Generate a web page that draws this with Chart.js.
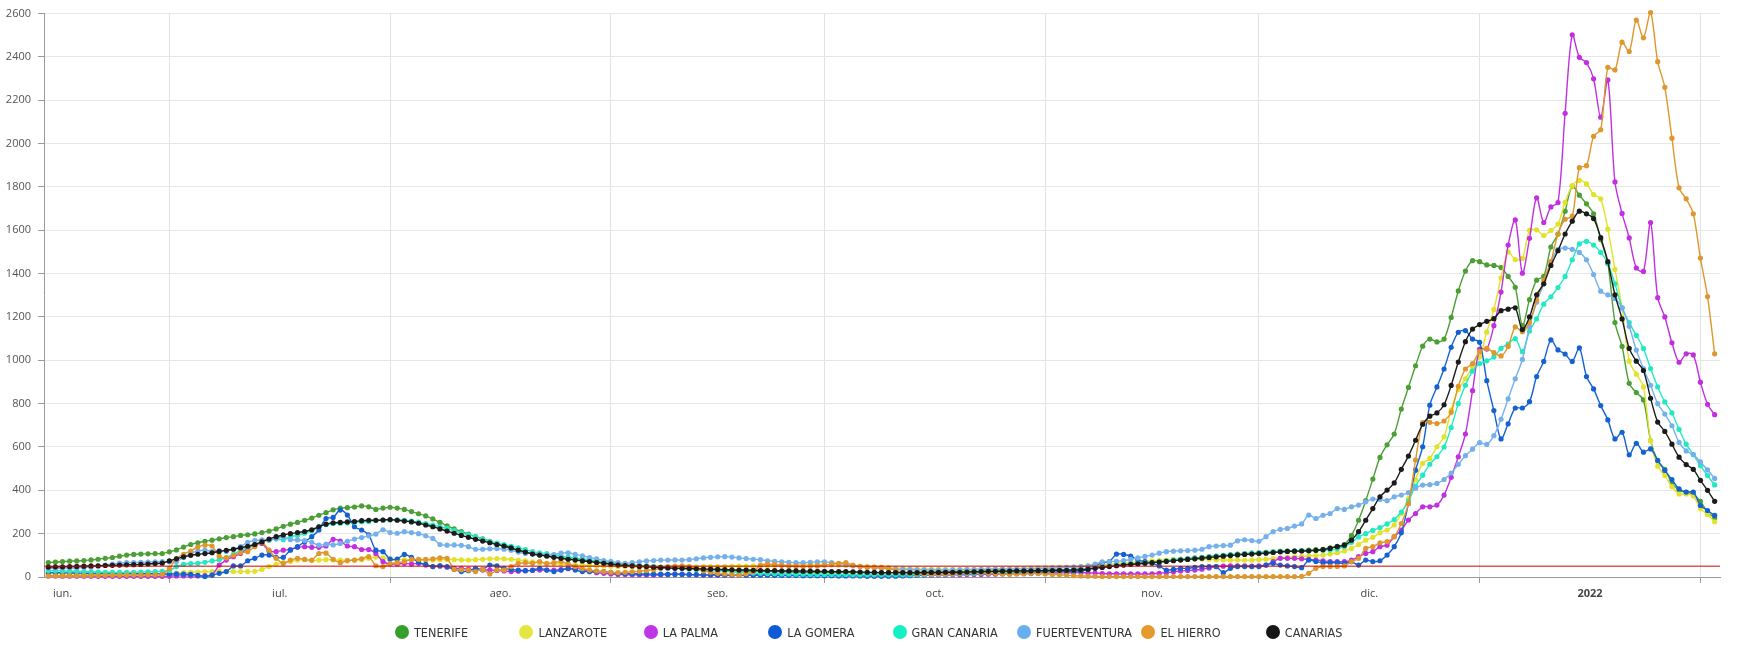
<!DOCTYPE html>
<html>
<head>
<meta charset="utf-8">
<script src="https://cdn.jsdelivr.net/npm/chart.js@4.4.1/dist/chart.umd.min.js"></script>
<style>
  html, body { margin: 0; padding: 0; background: #ffffff; }
  #wrap { position: relative; width: 1738px; height: 649px; }
  #legend { position: absolute; left: 0; top: 624px; width: 1738px; height: 18px; }
  .item { position: absolute; top: 0; height: 16px; display: flex; align-items: center; white-space: nowrap; }
  .dot { width: 14px; height: 14px; border-radius: 50%; margin-right: 5px; flex: none; }
  .lbl { font-family: "Liberation Sans Narrow", "DejaVu Sans Condensed", "Liberation Sans", sans-serif; font-size: 12.5px; color: #333; }
</style>
</head>
<body>
<div id="wrap">
  <canvas id="c" width="1738" height="649"></canvas>
  <div id="legend"></div>
</div>
<script>
// ---- categories: one point per day starting at this date ----
const startDate = '2021-06-14';
const monthStarts = ['2021-06-01','2021-07-01','2021-08-01','2021-09-01','2021-10-01','2021-11-01','2021-12-01','2022-01-01','2022-02-01'];
const monthLabels = ['jun.','jul.','ago.','sep.','oct.','nov.','dic.','2022'];
const thresholdValue = 50;
const yTicks = { min: 0, max: 2600, step: 200 };

// ---- series values (14-day incidence) ----
const tenerife = [
66,69,71,73,74,76,79,82,86,90,
96,101,104,106,107,108,108,116,125,138,
150,158,165,170,176,182,186,192,195,199,
205,212,222,234,244,252,262,272,285,297,
310,318,320,323,328,324,312,318,322,318,
312,302,292,282,268,252,236,222,210,198,
186,176,165,152,140,132,124,116,108,102,
97,93,89,85,81,78,75,72,68,64,
61,58,55,52,50,48,46,44,42,40,
39,37,35,33,32,31,30,29,28,27,
26,25,25,24,23,22,22,21,21,20,
20,20,21,20,20,19,19,19,20,20,
20,21,21,22,22,23,23,24,24,25,
26,26,27,27,28,28,29,29,30,30,
31,32,33,34,36,38,40,43,46,50,
53,57,61,64,67,70,73,76,79,82,
85,88,91,94,97,100,103,106,108,110,
112,114,116,118,119,120,122,124,126,128,
135,142,150,192,262,352,452,552,610,660,
775,875,975,1065,1098,1085,1098,1198,1320,1412,
1460,1455,1440,1438,1428,1387,1337,1160,1280,1370,
1387,1523,1583,1688,1804,1762,1722,1676,1557,1447,
1174,1064,894,851,817,630,536,497,434,400,
391,383,349,301,272];

const lanzarote = [
15,15,14,14,14,13,13,13,12,12,
12,12,12,12,13,13,14,16,18,20,
22,23,24,25,26,25,25,25,25,26,
35,48,58,66,72,78,80,76,78,80,
79,78,76,78,80,86,92,88,84,82,
80,79,78,77,78,80,81,80,79,78,
80,82,84,85,84,82,78,74,70,66,
63,61,60,58,56,55,53,52,51,50,
49,48,48,47,47,46,46,45,46,46,
47,47,48,48,48,49,49,50,50,51,
52,53,54,55,55,56,57,58,58,57,
56,55,53,51,50,49,47,45,43,41,
40,39,38,37,36,36,35,35,35,36,
36,37,37,38,38,39,40,40,41,42,
42,43,44,45,46,48,50,53,56,59,
62,65,68,70,72,74,76,78,80,81,
82,83,83,82,80,79,78,78,78,78,
80,82,85,88,91,93,95,97,99,101,
106,112,120,132,150,170,183,204,217,240,
293,362,450,524,547,601,647,770,865,915,
969,1015,1130,1235,1380,1500,1465,1470,1600,1602,
1576,1599,1629,1729,1806,1830,1814,1765,1745,1605,
1420,1242,996,936,877,630,511,468,417,383,
383,374,315,289,255];

const laPalma = [
5,5,4,4,4,4,4,3,3,3,
3,3,3,3,3,3,3,4,5,5,
5,5,6,9,55,78,94,109,132,147,
155,120,117,124,127,137,140,137,137,143,
174,166,143,140,127,127,109,71,60,60,
63,60,63,55,48,51,45,40,40,36,
32,32,32,30,28,25,27,29,30,32,
32,32,34,38,40,35,25,20,17,14,
12,11,10,10,9,9,10,12,14,13,
11,10,9,9,8,8,8,9,9,10,
10,10,11,11,10,10,9,9,8,8,
8,8,7,7,7,6,6,6,6,7,
7,7,8,8,8,9,9,10,10,11,
12,12,13,13,14,14,15,15,16,17,
18,18,19,19,20,20,19,18,16,15,
14,14,14,14,14,15,17,20,24,28,
30,32,36,42,48,50,51,51,51,50,
52,55,71,86,86,86,84,81,78,75,
71,71,71,78,94,109,117,140,147,186,
217,263,293,324,324,332,378,460,555,660,
860,1052,1052,1160,1315,1532,1648,1402,1563,1750,
1636,1708,1728,2140,2502,2398,2374,2299,2122,2294,
1823,1678,1565,1426,1410,1636,1289,1200,1081,991,
1030,1025,899,797,749];

const laGomera = [
20,20,19,19,18,18,17,17,17,16,
16,16,15,15,15,15,14,14,14,13,
12,8,2,9,17,25,51,51,75,86,
101,101,91,91,124,140,163,186,217,270,
275,309,286,232,217,194,124,117,83,83,
104,91,68,58,48,51,48,35,25,29,
40,35,55,51,40,35,32,29,32,40,
32,25,32,40,32,25,25,25,25,22,
17,16,15,14,14,13,13,12,12,12,
11,11,10,10,10,9,9,9,8,8,
8,8,7,7,7,7,6,6,6,6,
6,5,5,5,5,4,4,4,4,4,
5,6,8,10,12,14,15,16,17,17,
17,17,18,18,18,19,19,20,20,22,
24,25,25,26,27,28,35,50,66,71,
106,104,97,78,71,63,51,32,35,40,
40,45,48,48,48,20,40,48,48,48,
48,55,63,55,51,48,43,78,71,66,
66,66,63,71,55,78,71,75,101,140,
204,339,493,601,793,877,960,1060,1129,1137,
1098,1083,906,768,637,707,780,780,809,925,
995,1094,1048,1029,995,1057,925,868,791,725,
637,668,564,617,576,591,538,492,449,407,
392,392,330,307,284];

const granCanaria = [
30,29,28,27,26,25,24,23,22,21,
21,21,22,23,24,25,26,30,48,58,
62,63,68,74,80,90,105,122,138,146,
165,170,176,172,185,193,202,214,232,242,
247,248,250,253,255,256,262,263,263,264,
262,258,253,247,240,232,224,214,204,195,
186,175,164,156,150,142,135,126,117,112,
108,102,97,92,88,84,80,75,70,66,
62,58,55,52,50,47,45,43,41,39,
37,35,33,30,28,26,24,22,20,18,
17,16,15,14,14,13,13,12,12,12,
11,11,11,10,10,10,10,10,10,10,
10,10,11,11,12,12,13,14,15,16,
17,18,19,20,21,22,23,24,25,26,
27,28,30,32,34,37,40,44,48,52,
55,58,60,62,64,66,70,74,78,82,
84,87,90,93,96,99,102,105,108,110,
112,114,116,118,120,121,122,122,123,124,
125,130,140,160,185,200,215,228,245,265,
300,350,420,470,520,555,600,690,800,885,
950,985,998,1015,1055,1075,1100,1040,1135,1191,
1259,1293,1336,1387,1464,1537,1549,1532,1498,1447,
1353,1242,1174,1115,1055,962,877,808,757,681,
613,565,514,468,425];

const fuerteventura = [
40,40,41,41,42,44,46,50,55,60,
64,66,67,68,69,70,71,70,72,90,
109,120,124,118,122,118,128,140,160,168,
171,171,176,185,172,171,168,160,147,152,
148,155,165,175,182,190,198,218,205,202,
209,205,200,190,178,150,147,148,146,140,
128,128,130,131,128,124,115,108,112,104,
100,103,110,112,104,98,90,84,76,72,
66,63,66,70,74,76,78,78,79,78,
80,84,88,91,93,94,92,88,85,82,
80,75,72,70,68,66,66,68,70,70,
66,62,58,52,48,45,43,40,38,36,
35,34,33,33,32,32,32,33,33,34,
34,35,35,36,36,37,37,38,38,39,
40,41,42,44,46,48,52,60,70,71,
72,76,81,88,95,101,110,117,119,121,
122,124,128,140,143,145,147,167,172,168,
165,186,209,220,224,235,245,286,270,285,
293,316,312,324,332,347,360,358,352,370,
378,389,410,424,426,432,450,480,520,560,
590,620,612,652,728,822,915,1004,1155,1268,
1353,1455,1512,1518,1512,1498,1464,1396,1319,1302,
1285,1242,1157,1047,962,885,800,752,698,621,
582,565,531,494,455];

const elHierro = [
5,5,6,6,6,7,7,7,8,8,
8,9,9,9,10,10,12,40,85,105,
120,138,147,143,96,88,100,112,117,140,
158,124,86,63,78,86,81,78,108,110,
82,66,76,78,84,94,52,48,62,66,
71,81,81,81,84,88,86,35,33,32,
25,35,14,32,32,48,63,66,63,71,
62,66,71,60,48,38,32,28,25,22,
20,22,24,26,30,34,40,48,50,51,
48,40,28,22,17,14,11,9,15,25,
55,60,58,54,51,49,48,50,51,55,
60,63,66,55,48,45,45,44,40,30,
22,18,16,15,14,14,15,16,18,20,
22,20,18,16,14,13,14,15,17,16,
14,12,10,8,6,5,4,3,2,2,
2,2,2,2,2,2,2,2,2,2,
2,2,2,2,2,2,2,2,2,2,
2,2,2,2,2,2,3,17,40,48,
48,49,51,71,86,132,140,158,163,186,
247,339,540,712,714,708,720,760,880,960,
985,1040,1055,1035,1020,1064,1154,1132,1174,1277,
1370,1455,1583,1651,1665,1889,1898,2034,2064,2352,
2340,2468,2425,2570,2488,2605,2378,2260,2025,1796,
1745,1676,1472,1294,1030];

const canarias = [
46,47,47,48,49,50,51,52,53,54,
55,56,57,58,60,62,64,74,84,93,
100,105,108,112,118,123,128,135,142,150,
162,175,186,194,200,205,210,218,232,244,
250,252,254,256,260,262,262,263,265,262,
258,254,248,240,232,222,212,202,192,183,
174,166,158,150,143,134,124,115,106,101,
97,91,86,82,78,74,71,67,63,59,
55,53,51,49,48,45,43,42,40,40,
39,38,37,36,35,34,33,32,32,31,
30,29,29,28,28,28,27,27,26,26,
25,25,25,24,23,22,21,20,20,20,
20,20,20,21,21,21,22,22,22,23,
24,25,26,26,27,27,28,28,28,29,
29,30,31,31,32,33,36,40,44,48,
52,55,58,61,63,66,69,72,75,78,
81,84,87,90,93,96,99,102,104,106,
108,110,113,116,118,119,120,121,123,126,
132,140,147,170,209,262,316,370,401,434,
497,558,631,705,742,757,795,884,992,1086,
1144,1165,1180,1192,1229,1236,1242,1142,1200,1302,
1353,1438,1506,1583,1642,1688,1676,1654,1566,1455,
1302,1191,1055,996,953,825,715,672,613,553,
519,497,446,400,349];

const seriesNames = ['TENERIFE','LANZAROTE','LA PALMA','LA GOMERA','GRAN CANARIA','FUERTEVENTURA','EL HIERRO','CANARIAS'];
const seriesValues = [tenerife, lanzarote, laPalma, laGomera, granCanaria, fuerteventura, elHierro, canarias];

// ---- styling (kept apart from the data) ----
const lineColors   = ['#4c9f35','#e2e22a','#c22fe0','#1462d2','#22e9c2','#74b1ec','#df962d','#1b1b1b'];
const legendColors = ['#34a02b','#e6e642','#bf35e8','#0d5bd6','#14f0c6','#6aaef0','#e49a2c','#161616'];
const drawOrder    = [7,6,5,4,3,2,1,0];

// ---- day offsets ----
const dayMs = 86400000;
const t0 = Date.parse(startDate + 'T00:00:00Z');
const dayOf = s => Math.round((Date.parse(s + 'T00:00:00Z') - t0) / dayMs);
const startOffsets = monthStarts.map(dayOf);
const gridDays = startOffsets.slice(1);
const labelDays = startOffsets.slice(0, -1).map((d, i) => (d + startOffsets[i + 1]) / 2);
const nPoints = canarias.length;
const xMin = -0.6, xMax = nPoints - 1 + 0.75;

const labelMap = new Map(labelDays.map((d, i) => [d, monthLabels[i]]));
const gridSet = new Set(gridDays);

const datasets = seriesValues.map((vals, k) => ({
  label: seriesNames[k],
  data: vals.map((v, i) => ({ x: i, y: v })),
  borderColor: lineColors[k],
  backgroundColor: lineColors[k],
  pointBackgroundColor: lineColors[k],
  pointBorderWidth: 0,
  pointRadius: 2.6,
  pointHoverRadius: 2.6,
  borderWidth: 1.4,
  tension: 0.3,
  fill: false,
  clip: 8,
  order: drawOrder[k]
}));
datasets.push({
  label: 'umbral',
  data: [{ x: xMin, y: thresholdValue }, { x: xMax, y: thresholdValue }],
  borderColor: '#d10000',
  borderWidth: 1,
  pointRadius: 0,
  tension: 0,
  fill: false,
  order: -1
});

Chart.defaults.font.family = "'Open Sans', 'Liberation Sans', sans-serif";

new Chart(document.getElementById('c'), {
  type: 'line',
  data: { datasets },
  options: {
    responsive: false,
    animation: false,
    devicePixelRatio: 1,
    events: [],
    layout: { padding: { left: 0, right: 18, top: 12, bottom: 52 } },
    plugins: { legend: { display: false }, tooltip: { enabled: false } },
    scales: {
      x: {
        type: 'linear',
        min: xMin,
        max: xMax,
        afterBuildTicks: axis => {
          const vals = gridDays.concat(labelDays).sort((a, b) => a - b);
          axis.ticks = vals.map(v => ({ value: v }));
        },
        afterFit: s => { s.height = 20; },
        grid: {
          color: c => (c.tick && gridSet.has(c.tick.value)) ? '#e2e2e2' : 'rgba(0,0,0,0)',
          tickColor: c => (c.tick && gridSet.has(c.tick.value)) ? '#9a9a9a' : 'rgba(0,0,0,0)',
          tickLength: 6,
          lineWidth: 1
        },
        border: { color: '#9a9a9a', width: 1 },
        ticks: {
          autoSkip: false,
          maxRotation: 0,
          minRotation: 0,
          padding: 4,
          color: '#444',
          font: c => ({ size: 11, weight: (c.tick && labelMap.get(c.tick.value) === '2022') ? 'bold' : 'normal' }),
          callback: v => labelMap.has(v) ? labelMap.get(v) : ''
        }
      },
      y: {
        type: 'linear',
        min: yTicks.min,
        max: yTicks.max,
        afterFit: s => { s.width = 44; },
        grid: { color: '#e6e6e6', tickColor: '#9a9a9a', tickLength: 6, lineWidth: 1 },
        border: { color: '#9a9a9a', width: 1 },
        ticks: { stepSize: yTicks.step, padding: 7, color: '#555', font: { size: 11 }, callback: v => String(v) }
      }
    }
  }
});

// ---- legend (fixed columns, like the original) ----
const legend = document.getElementById('legend');
seriesNames.forEach((name, i) => {
  const it = document.createElement('div');
  it.className = 'item';
  it.style.left = (395 + i * 124.4) + 'px';
  const d = document.createElement('span');
  d.className = 'dot';
  d.style.background = legendColors[i];
  const t = document.createElement('span');
  t.className = 'lbl';
  t.textContent = name;
  it.appendChild(d); it.appendChild(t);
  legend.appendChild(it);
});
</script>
</body>
</html>
